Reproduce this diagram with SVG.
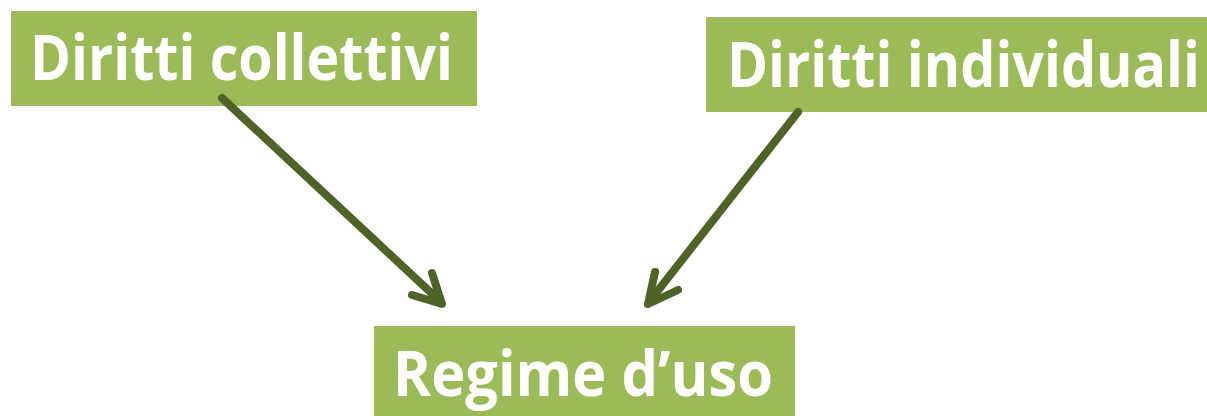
<svg xmlns="http://www.w3.org/2000/svg" width="1207" height="416" viewBox="0 0 1207 416">
<style>
.box{fill:#9BBB59}
.lbl{font-family:"Open Sans","Liberation Sans",sans-serif;font-weight:bold;font-size:63px;fill:#FFFFFF}
.conn{stroke:#4F6228;stroke-width:8;fill:none;stroke-linecap:round;stroke-linejoin:round}
</style>
<rect width="1207" height="416" fill="#FFFFFF"/>
<g id="node-collettivi">
<rect class="box" x="11" y="11" width="466" height="95"/>
<text class="lbl" x="30" y="80" textLength="423" lengthAdjust="spacingAndGlyphs">Diritti collettivi</text>
</g>
<g id="node-individuali">
<rect class="box" x="706" y="17" width="501" height="95"/>
<text class="lbl" x="727" y="87" textLength="473" lengthAdjust="spacingAndGlyphs">Diritti individuali</text>
</g>
<g id="node-regime">
<rect class="box" x="374" y="326" width="421" height="90"/>
<text class="lbl" x="393" y="396" textLength="380" lengthAdjust="spacingAndGlyphs">Regime d’uso</text>
</g>
<g id="connectors">
<path class="conn" d="M222,98 L441,302"/>
<path class="conn" d="M412,295 L442,304 L432,273"/>
<path class="conn" d="M798,112 L649,302"/>
<path class="conn" d="M655,272 L648,304 L678,290"/>
</g>
</svg>
